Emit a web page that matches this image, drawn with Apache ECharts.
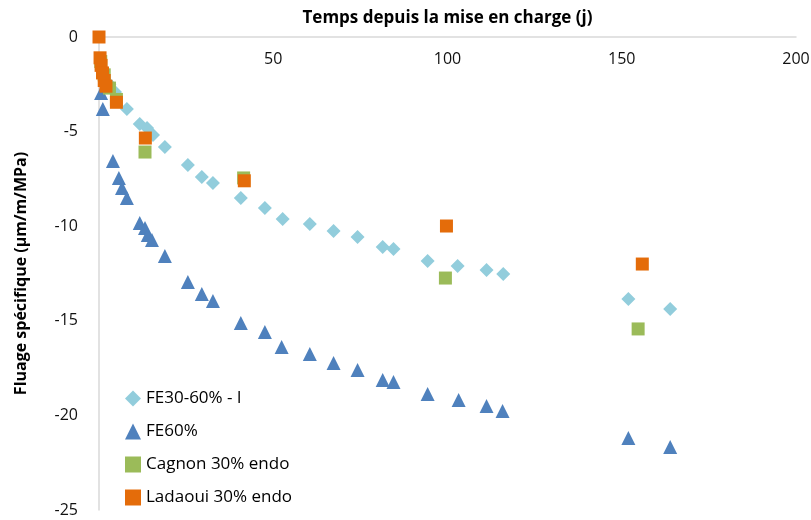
<!DOCTYPE html>
<html>
<head>
<meta charset="utf-8">
<script src="https://cdn.jsdelivr.net/npm/echarts@6/dist/echarts.min.js"></script>
<style>
html, body { margin: 0; padding: 0; background: #fff; }
#main { width: 811px; height: 520px; }
</style>
</head>
<body>
<div id="main"></div>
<script>
// temps (j) / fluage specifique
var fe30Days = [3, 4.6, 8.0, 11.7, 13.8, 15.5, 18.9, 25.5, 29.5, 32.7, 40.7, 47.6, 52.7, 60.5, 67.3, 74.2, 81.4, 84.5, 94.3, 102.9, 111.2, 116.0, 151.9, 163.9];
var fe30Vals = [-2.5, -2.91, -3.81, -4.6, -4.81, -5.18, -5.81, -6.77, -7.4, -7.72, -8.51, -9.04, -9.62, -9.88, -10.25, -10.57, -11.1, -11.21, -11.84, -12.1, -12.32, -12.53, -13.85, -14.38];

var fe60Days = [0.6, 1.1, 4.0, 5.7, 6.6, 8.0, 11.7, 13.2, 14.0, 15.2, 18.9, 25.5, 29.5, 32.7, 40.7, 47.6, 52.4, 60.5, 67.3, 74.2, 81.4, 84.5, 94.3, 103.2, 111.2, 115.8, 151.9, 163.9];
var fe60Vals = [-2.96, -3.81, -6.55, -7.45, -7.98, -8.51, -9.83, -10.1, -10.47, -10.73, -11.58, -12.95, -13.58, -13.95, -15.12, -15.59, -16.38, -16.75, -17.23, -17.6, -18.13, -18.23, -18.87, -19.19, -19.5, -19.77, -21.2, -21.67];

var cagnonDays = [0.5, 1.5, 3, 5, 13.2, 41.5, 99.4, 154.7];
var cagnonVals = [-1.3, -2.0, -2.7, -3.3, -6.08, -7.45, -12.74, -15.43];

var ladaouiDays = [0, 0.3, 0.6, 1, 1.5, 2, 5, 13.3, 41.7, 99.7, 155.9];
var ladaouiVals = [0, -1.1, -1.5, -1.9, -2.3, -2.6, -3.45, -5.34, -7.6, -9.99, -12.0];

var seriesNames = ['FE30-60% - l', 'FE60%', 'Cagnon 30% endo', 'Ladaoui 30% endo'];

function pairs(xs, ys) {
    var out = [];
    for (var i = 0; i < xs.length; i++) {
        out.push([xs[i], ys[i]]);
    }
    return out;
}

var myChart = echarts.init(document.getElementById('main'));
var fontFam = '"Open Sans", "Noto Sans", sans-serif';

var option = {
    animation: false,
    backgroundColor: '#fff',
    grid: { left: 99, right: 15, top: 37, bottom: 10, outerBoundsMode: 'none' },
    legend: {
        orient: 'vertical',
        left: 120,
        top: 385,
        itemGap: 16,
        itemWidth: 16,
        itemHeight: 16,
        textStyle: { fontSize: 17, color: '#000', fontFamily: fontFam },
        data: [
            { name: seriesNames[0], icon: 'diamond' },
            { name: seriesNames[1], icon: 'triangle' },
            { name: seriesNames[2], icon: 'rect' },
            { name: seriesNames[3], icon: 'rect' }
        ]
    },
    xAxis: {
        type: 'value',
        position: 'top',
        min: 0,
        max: 200,
        interval: 50,
        name: 'Temps depuis la mise en charge (j)',
        nameLocation: 'middle',
        nameGap: 10,
        nameTextStyle: { fontSize: 17, fontWeight: 'bold', color: '#000', fontFamily: fontFam },
        axisLine: { onZero: false, lineStyle: { color: '#d9d9d9', width: 1.5 } },
        axisTick: { show: false },
        axisLabel: { inside: true, margin: 14, fontSize: 16, color: '#111', fontFamily: fontFam },
        splitLine: { show: false }
    },
    yAxis: {
        type: 'value',
        min: -25,
        max: 0,
        interval: 5,
        name: 'Fluage spécifique (µm/m/MPa)',
        nameLocation: 'middle',
        nameGap: 70,
        nameRotate: 90,
        nameTextStyle: { fontSize: 16, fontWeight: 'bold', color: '#000', fontFamily: fontFam },
        axisLine: { show: true, onZero: false, lineStyle: { color: '#d9d9d9', width: 1.5 } },
        axisTick: { show: false },
        axisLabel: { margin: 21, fontSize: 16, color: '#111', fontFamily: fontFam },
        splitLine: { show: false }
    },
    series: [
        {
            name: seriesNames[0],
            type: 'scatter',
            symbol: 'diamond',
            symbolSize: 14,
            itemStyle: { color: '#92cddc', opacity: 1 },
            data: pairs(fe30Days, fe30Vals)
        },
        {
            name: seriesNames[1],
            type: 'scatter',
            symbol: 'triangle',
            symbolSize: 14,
            itemStyle: { color: '#4f81bd', opacity: 1 },
            data: pairs(fe60Days, fe60Vals)
        },
        {
            name: seriesNames[2],
            type: 'scatter',
            symbol: 'rect',
            symbolSize: 13,
            itemStyle: { color: '#9bbb59', opacity: 1 },
            data: pairs(cagnonDays, cagnonVals)
        },
        {
            name: seriesNames[3],
            type: 'scatter',
            symbol: 'rect',
            symbolSize: 13,
            itemStyle: { color: '#e46c0a', opacity: 1 },
            data: pairs(ladaouiDays, ladaouiVals)
        }
    ]
};
myChart.setOption(option);
</script>
</body>
</html>
